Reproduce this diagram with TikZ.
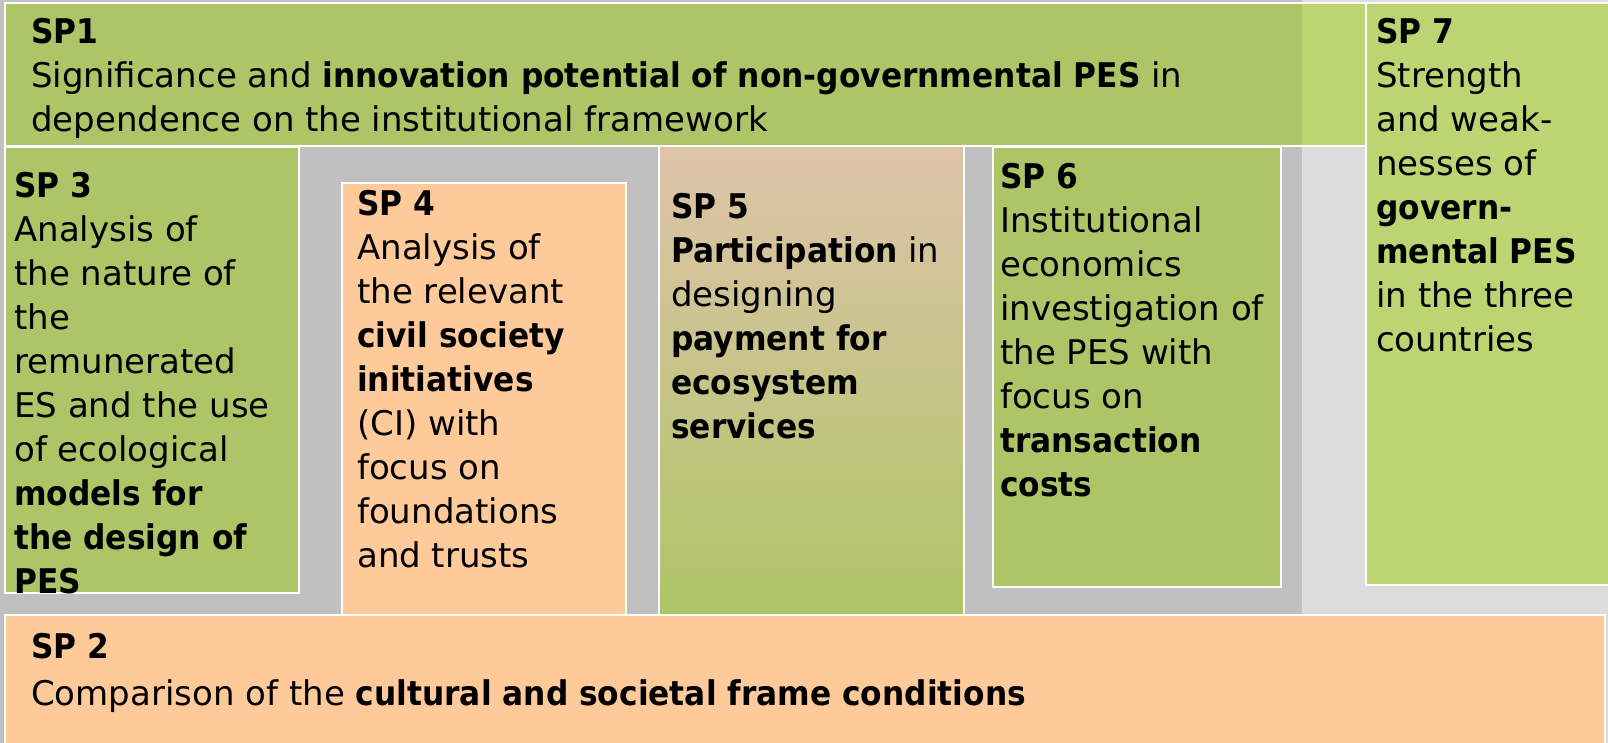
\documentclass[tikz,border=0pt]{standalone}
\usepackage{fontspec}
\setmainfont{DejaVu Sans}[BoldFeatures={FakeStretch=0.92}]
\definecolor{graydark}{HTML}{C0C0C0}
\definecolor{graylight}{HTML}{DCDCDC}
\definecolor{greenA}{HTML}{ADC566}
\definecolor{greenB}{HTML}{BDD472}
\definecolor{peach}{HTML}{FFCA99}
\definecolor{tan}{HTML}{DFC4AA}
\begin{document}
\begin{tikzpicture}[x=1pt,y=-1pt,
  txt/.style={anchor=north west, inner sep=0pt, align=left, font=\fontsize{34}{44}\selectfont},
  txtB/.style={anchor=north west, inner sep=0pt, align=left, font=\fontsize{34}{47}\selectfont},
  boxline/.style={draw=white, line width=1.5pt}]
\useasboundingbox (0,0) rectangle (1608,743);
% backgrounds
\fill[graydark] (0,0) rectangle (1302,743);
\fill[graylight] (1302,0) rectangle (1608,743);
% SP1
\fill[greenA] (5,3) rectangle (1302,146);
\fill[greenB] (1302,3) rectangle (1366,146);
\draw[boxline] (5,3) rectangle (1366,146);
% SP3
\fill[greenA, boxline] (5,147) rectangle (299,593);
% SP4
\fill[peach, boxline] (342,183) rectangle (626,618);
% SP5
\shade[top color=tan, bottom color=greenA] (659,146) rectangle (964,618);
\draw[boxline] (659,146) rectangle (964,618);
% SP6
\fill[greenA, boxline] (993,147) rectangle (1281,587);
% SP7
\fill[greenB, boxline] (1366,3) rectangle (1610,585);
% SP2
\fill[peach, boxline] (5,615) rectangle (1605,745);
% texts
\node[txt] (sp1) at (31,13) {\strut\textbf{SP1}\\
Significance and \textbf{innovation potential of non-governmental PES} in\\
dependence on the institutional framework};
\node[txt] (sp3) at (14,166) {\strut\textbf{SP 3}\\
Analysis of\\ the nature of\\ the\\ remunerated\\ ES and the use\\ of ecological\\
\textbf{models for}\\ \textbf{the design of}\\ \textbf{PES}};
\node[txt] (sp4) at (357,184) {\strut\textbf{SP 4}\\
Analysis of\\ the relevant\\ \textbf{civil society}\\ \textbf{initiatives}\\
(CI) with\\ focus on\\ foundations\\ and trusts};
\node[txt] (sp5) at (671,187) {\strut\textbf{SP 5}\\
\textbf{Participation} in\\ designing\\ \textbf{payment for}\\ \textbf{ecosystem}\\ \textbf{services}};
\node[txt] (sp6) at (1000,157) {\strut\textbf{SP 6}\\
Institutional\\ economics\\ investigation of\\ the PES with\\ focus on\\
\textbf{transaction}\\ \textbf{costs}};
\node[txt] (sp7) at (1376,12) {\strut\textbf{SP 7}\\
Strength\\ and weak-\\ nesses of\\ \textbf{govern-}\\ \textbf{mental PES}\\
in the three\\ countries};
\node[txtB] (sp2) at (31,625) {\strut\textbf{SP 2}\\
Comparison of the \textbf{cultural and societal frame conditions}};
\end{tikzpicture}
\end{document}
